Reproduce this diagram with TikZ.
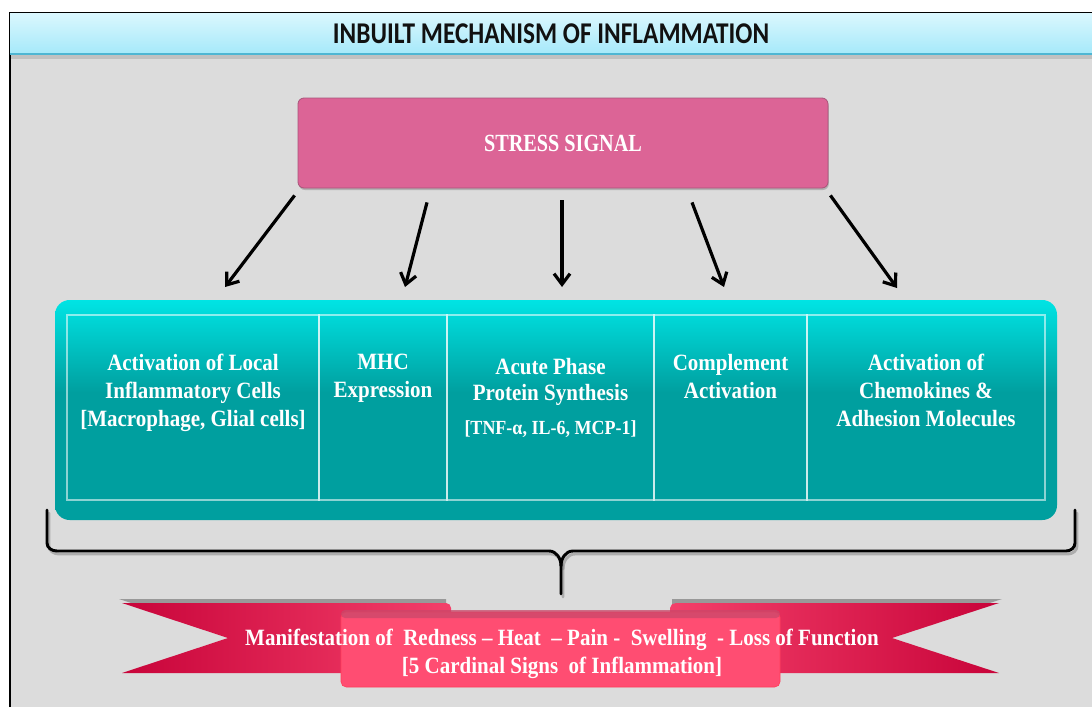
\documentclass[tikz,border=0pt]{standalone}
\usepackage{fontspec}
\setmainfont{Liberation Serif}
\newfontfamily\titlefont[FakeStretch=0.84]{Carlito}
\newfontfamily\labelfont[FakeStretch=0.9]{Liberation Serif}
\newfontfamily\stressfont[FakeStretch=0.82]{Liberation Serif}
\usetikzlibrary{positioning,arrows.meta,calc,shadows}
\usepackage{xcolor}
\definecolor{panelgray}{HTML}{DCDCDC}
\definecolor{titletop}{HTML}{DAF7FE}
\definecolor{titlebottom}{HTML}{A6E9FA}
\definecolor{titleline}{HTML}{4FB6D3}
\definecolor{titleink}{HTML}{111111}
\definecolor{stresspink}{HTML}{DC6496}
\definecolor{stressedge}{HTML}{A8557A}
\definecolor{tealtop}{HTML}{00E4E4}
\definecolor{tealdark}{HTML}{009F9F}
\definecolor{crimson}{HTML}{C8043A}
\definecolor{ribbonpink}{HTML}{F4406A}
\definecolor{frontpink}{HTML}{FF4D72}
\definecolor{frontlight}{HTML}{FF7D93}
\definecolor{curlrose}{HTML}{C9486A}
\pgfdeclareverticalshading{tealfade}{100bp}{color(0bp)=(tealdark); color(54bp)=(tealdark); color(75bp)=(tealtop); color(100bp)=(tealtop)}

\begin{document}
\begin{tikzpicture}[
    x=0.75pt, y=-0.75pt,
    >=Stealth,
    every node/.style={font=\labelfont\bfseries\fontsize{17.5}{21}\selectfont, text=white, align=center},
    titlebar/.style={
      rectangle, inner sep=0pt,
      minimum width=811.5pt, minimum height=30pt,
      top color=titletop, bottom color=titlebottom,
      text=titleink, font=\titlefont\bfseries\fontsize{22.6}{26}\selectfont
    },
    stressbox/.style={
      rectangle, rounded corners=4.5pt,
      minimum width=397.5pt, minimum height=67.5pt,
      fill=stresspink, draw=stressedge, line width=0.6pt,
      drop shadow={shadow xshift=0.6pt, shadow yshift=-1.5pt, opacity=0.45},
      font=\stressfont\bfseries\fontsize{18.5}{21}\selectfont
    },
    panel/.style={
      rectangle, rounded corners=11pt,
      minimum width=751.5pt, minimum height=165pt,
      shade, shading=tealfade
    },
    cell/.style={
      rectangle, draw=white, draw opacity=0.55, line width=0.9pt,
      minimum height=138.75pt, inner sep=0pt, outer sep=0pt
    },
    celltext/.style={inner sep=0pt},
    arrow/.style={draw=black, line width=2.4pt, -{Straight Barb[length=8pt,width=12pt]}},
    brace/.style={draw=black, line width=2.2pt, line join=round, line cap=round},
    ribbonshadow/.style={fill=black, opacity=0.3},
  ]
  \useasboundingbox (0,0) rectangle (1092,707);

  % Frame
  \fill[white] (0,0) rectangle (1092,707);
  \fill[panelgray] (10,13) rectangle (1092,707);
  \draw[black, line width=1.5pt] (9.5,707) -- (9.5,12.5) -- (1092,12.5);

  % Title
  \node[titlebar] (title) at (551,33.5) {INBUILT MECHANISM OF INFLAMMATION};
  \fill[black, opacity=0.12] (title.south west) rectangle ++(1082,5);
  \draw[titleline, line width=1.5pt] (title.south west) -- (title.south east);

  % Nodes
  \node[stressbox] (stress) at (563,143) {STRESS SIGNAL};
  \node[panel] (panel) at (556,410) {};

  \node[cell, minimum width=189pt] (cellA) at (193,407.5) {};
  \node[cell, minimum width=96pt, right=0pt of cellA] (cellB) {};
  \node[cell, minimum width=155.25pt, right=0pt of cellB] (cellC) {};
  \node[cell, minimum width=114.75pt, right=0pt of cellC] (cellD) {};
  \node[cell, minimum width=178.5pt, right=0pt of cellD] (cellE) {};

  \node[celltext, below=29pt of cellA.north] (txtA)
    {Activation of Local\\Inflammatory Cells\\{[Macrophage, Glial cells]}};
  \node[celltext, below=29pt of cellB.north] (txtB) {MHC\\Expression};
  \node[celltext, below=32pt of cellC.north] (txtC)
    {Acute Phase\\[-1pt]Protein Synthesis\\[4pt]{\fontsize{15}{18}\selectfont[TNF-α, IL-6, MCP-1]}};
  \node[celltext, below=29pt of cellD.north] (txtD) {Complement\\Activation};
  \node[celltext, below=29pt of cellE.north] (txtE)
    {Activation of\\Chemokines \&\\Adhesion Molecules};

  % Arrows
  \draw[arrow] ([shift={(-3,7)}]stress.south west) -- ([shift={(32,-28)}]cellA.north);
  \draw[arrow] ([shift={(-136,14)}]stress.south) -- ([shift={(22,-28)}]cellB.north);
  \draw[arrow] ([shift={(-1,12)}]stress.south) -- ([shift={(11.5,-28)}]cellC.north);
  \draw[arrow] ([shift={(129,14)}]stress.south) -- ([shift={(-6.5,-28)}]cellD.north);
  \draw[arrow] ([shift={(2,7)}]stress.south east) -- ([shift={(-29,-27)}]cellE.north);

  % Brace
  \draw[brace, gray, opacity=0.5] (49,513) -- (49,546) to[out=-90,in=180] (59,554) -- (551,554)
    to[out=0,in=90] (563,569) -- (563,597);
  \draw[brace, gray, opacity=0.5] (563,569) to[out=90,in=180] (575,554) -- (1068,554)
    to[out=0,in=-90] (1077,546) -- (1077,513);
  \draw[brace] (47,510) -- (47,543) to[out=-90,in=180] (57,551) -- (549,551)
    to[out=0,in=90] (561,566) -- (561,594);
  \draw[brace] (561,566) to[out=90,in=180] (573,551) -- (1066,551)
    to[out=0,in=-90] (1075,543) -- (1075,510);

  % Ribbon
  \fill[ribbonshadow] (119,599) -- (446,599) -- (446,610) -- (225,634) -- cycle;
  \fill[ribbonshadow] (1002,599) -- (672,599) -- (672,610) -- (895,634) -- cycle;
  \path[left color=crimson, right color=ribbonpink]
    (122,603) -- (446,603) to[out=0,in=90] (451,608) -- (451,673) -- (122,673) -- (228,638) -- cycle;
  \path[left color=ribbonpink, right color=crimson]
    (999,603) -- (676,603) to[out=180,in=90] (670,608) -- (670,673) -- (999,673) -- (892,638) -- cycle;
  \path[left color=frontpink, middle color=frontlight, right color=frontpink,
        draw=frontpink!80!red, line width=0.5pt, rounded corners=4pt]
    (341,612) rectangle (780,687);
  \fill[curlrose, opacity=0.75, rounded corners=3pt] (341,610) rectangle (780,618);

  \node (signs) at (562,654)
    {Manifestation of\ \ Redness – Heat\ \ – Pain -\ \ Swelling\ \ - Loss of Function\\{[5 Cardinal Signs\ \ of Inflammation]}};

\end{tikzpicture}
\end{document}
